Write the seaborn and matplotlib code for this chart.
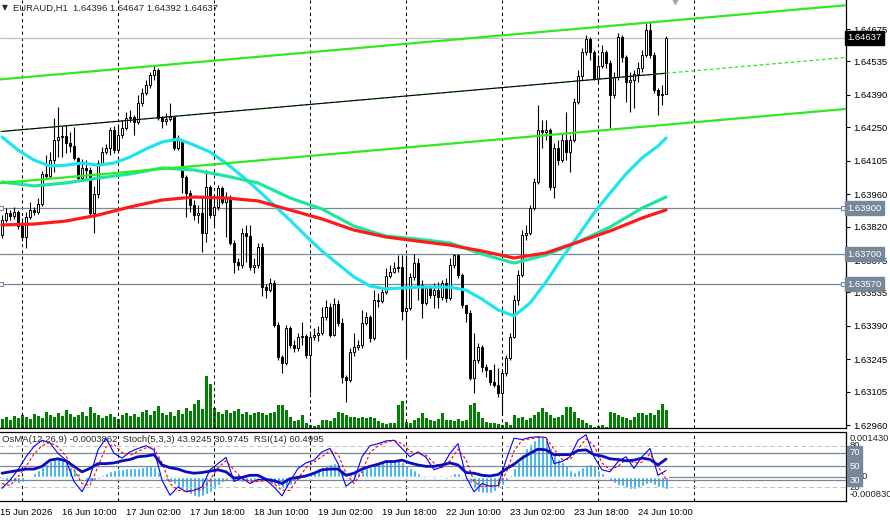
import numpy as np
import matplotlib
matplotlib.use("Agg")
import matplotlib.pyplot as plt
import matplotlib.transforms as mtransforms
import seaborn as sns

# ---- data ----
open0 = 1.63783
closes = [
    1.63848, 1.63879, 1.63866, 1.63883, 1.63822, 1.63775, 1.63861, 1.63892, 1.63883, 1.63918,
    1.64048, 1.64039, 1.64108, 1.64195, 1.64208, 1.64212, 1.64182, 1.64169, 1.64117, 1.64030,
    1.64074, 1.64065, 1.63879, 1.63961, 1.64095, 1.64143, 1.64160, 1.64238, 1.64151, 1.64216,
    1.64247, 1.64290, 1.64294, 1.64273, 1.64355, 1.64398, 1.64433, 1.64476, 1.64498, 1.64290,
    1.64277, 1.64286, 1.64294, 1.64160, 1.64195, 1.64035, 1.63965, 1.63913, 1.63870, 1.63879,
    1.63792, 1.63991, 1.63870, 1.63905, 1.63987, 1.63926, 1.63944, 1.63749, 1.63666, 1.63653,
    1.63792, 1.63779, 1.63645, 1.63653, 1.63731, 1.63558, 1.63545, 1.63576, 1.63394, 1.63255,
    1.63229, 1.63381, 1.63307, 1.63294, 1.63342, 1.63346, 1.63264, 1.63342, 1.63350, 1.63359,
    1.63428, 1.63472, 1.63350, 1.63485, 1.63402, 1.63169, 1.63156, 1.63277, 1.63298, 1.63307,
    1.63402, 1.63428, 1.63337, 1.63502, 1.63498, 1.63537, 1.63606, 1.63623, 1.63641, 1.63645,
    1.63454, 1.63467, 1.63602, 1.63662, 1.63567, 1.63489, 1.63554, 1.63524, 1.63545, 1.63515,
    1.63576, 1.63511, 1.63653, 1.63697, 1.63610, 1.63480, 1.63446, 1.63164, 1.63242, 1.63298,
    1.63212, 1.63199, 1.63147, 1.63134, 1.63099, 1.63186, 1.63251, 1.63342, 1.63502, 1.63610,
    1.63783, 1.63792, 1.63900, 1.64013, 1.64238, 1.64229, 1.64238, 1.63991, 1.64160, 1.64108,
    1.64195, 1.64143, 1.64195, 1.64359, 1.64472, 1.64576, 1.64632, 1.64576, 1.64463, 1.64515,
    1.64576, 1.64528, 1.64390, 1.64468, 1.64641, 1.64554, 1.64446, 1.64455, 1.64481, 1.64507,
    1.64563, 1.64671, 1.64563, 1.64411, 1.64390, 1.64396, 1.64637,
]
highs = [
    1.63870, 1.63900, 1.63892, 1.63905, 1.63892, 1.63857, 1.63883, 1.63926, 1.63905, 1.63944,
    1.64061, 1.64130, 1.64143, 1.64290, 1.64338, 1.64255, 1.64260, 1.64229, 1.64251, 1.64121,
    1.64112, 1.64108, 1.64078, 1.63996, 1.64108, 1.64164, 1.64177, 1.64251, 1.64255, 1.64264,
    1.64281, 1.64316, 1.64325, 1.64303, 1.64390, 1.64420, 1.64455, 1.64489, 1.64520, 1.64507,
    1.64299, 1.64312, 1.64355, 1.64299, 1.64216, 1.64195, 1.64043, 1.63978, 1.63935, 1.63913,
    1.63948, 1.64065, 1.64000, 1.63948, 1.64000, 1.63996, 1.63970, 1.63957, 1.63762, 1.63684,
    1.63814, 1.63827, 1.63827, 1.63684, 1.63749, 1.63749, 1.63571, 1.63597, 1.63589, 1.63407,
    1.63264, 1.63394, 1.63389, 1.63329, 1.63359, 1.63407, 1.63355, 1.63359, 1.63381, 1.63389,
    1.63472, 1.63502, 1.63489, 1.63511, 1.63502, 1.63424, 1.63177, 1.63294, 1.63359, 1.63329,
    1.63459, 1.63450, 1.63437, 1.63545, 1.63532, 1.63558, 1.63641, 1.63653, 1.63666, 1.63697,
    1.63697, 1.63697, 1.63619, 1.63701, 1.63684, 1.63589, 1.63567, 1.63567, 1.63576, 1.63580,
    1.63589, 1.63597, 1.63684, 1.63701, 1.63701, 1.63619, 1.63480, 1.63459, 1.63359, 1.63316,
    1.63307, 1.63225, 1.63199, 1.63225, 1.63208, 1.63199, 1.63264, 1.63359, 1.63524, 1.63632,
    1.63805, 1.63827, 1.63913, 1.64030, 1.64346, 1.64281, 1.64281, 1.64247, 1.64182, 1.64195,
    1.64225, 1.64316, 1.64216, 1.64377, 1.64498, 1.64593, 1.64649, 1.64641, 1.64584, 1.64563,
    1.64606, 1.64584, 1.64541, 1.64489, 1.64658, 1.64649, 1.64563, 1.64489, 1.64498, 1.64533,
    1.64584, 1.64706, 1.64706, 1.64576, 1.64420, 1.64433, 1.64647,
]
lows = [
    1.63770, 1.63840, 1.63848, 1.63853, 1.63809, 1.63757, 1.63727, 1.63853, 1.63870, 1.63874,
    1.63909, 1.64026, 1.64030, 1.64056, 1.64121, 1.64121, 1.64138, 1.64143, 1.64108, 1.64022,
    1.64022, 1.64030, 1.63866, 1.63792, 1.63944, 1.64086, 1.64134, 1.64130, 1.64138, 1.64143,
    1.64203, 1.64238, 1.64273, 1.64216, 1.64264, 1.64342, 1.64390, 1.64420, 1.64455, 1.64281,
    1.64247, 1.64260, 1.64277, 1.64151, 1.64151, 1.63965, 1.63861, 1.63883, 1.63848, 1.63835,
    1.63710, 1.63753, 1.63857, 1.63818, 1.63892, 1.63918, 1.63775, 1.63740, 1.63619, 1.63632,
    1.63641, 1.63666, 1.63632, 1.63619, 1.63641, 1.63519, 1.63511, 1.63537, 1.63385, 1.63242,
    1.63186, 1.63220, 1.63294, 1.63277, 1.63281, 1.63307, 1.63251, 1.63099, 1.63329, 1.63324,
    1.63350, 1.63415, 1.63342, 1.63346, 1.63389, 1.63143, 1.63060, 1.63147, 1.63259, 1.63285,
    1.63294, 1.63394, 1.63320, 1.63329, 1.63472, 1.63489, 1.63528, 1.63597, 1.63619, 1.63623,
    1.63415, 1.63255, 1.63459, 1.63589, 1.63502, 1.63424, 1.63480, 1.63511, 1.63467, 1.63467,
    1.63502, 1.63493, 1.63502, 1.63641, 1.63597, 1.63467, 1.63407, 1.63156, 1.63099, 1.63229,
    1.63190, 1.63169, 1.63134, 1.63125, 1.63082, 1.63004, 1.63173, 1.63242, 1.63337, 1.63480,
    1.63602, 1.63762, 1.63783, 1.63892, 1.64004, 1.64160, 1.64195, 1.63978, 1.63944, 1.64086,
    1.64100, 1.64108, 1.64056, 1.64186, 1.64351, 1.64455, 1.64563, 1.64541, 1.64455, 1.64446,
    1.64507, 1.64507, 1.64247, 1.64377, 1.64455, 1.64533, 1.64359, 1.64316, 1.64333, 1.64446,
    1.64489, 1.64554, 1.64550, 1.64398, 1.64303, 1.64346, 1.64392,
]
# tick volume (hundreds of ticks)
volumes = [
    9, 11, 8, 12, 10, 13, 11, 9, 14, 12, 10, 16, 13, 11, 15, 12, 18, 14, 11, 13, 16,
    12, 21, 15, 13, 10, 12, 14, 11, 9, 13, 15, 12, 14, 11, 16, 18, 13, 17, 22, 15,
    13, 16, 12, 18, 14, 20, 17, 24, 28, 19, 52, 44, 20, 16, 14, 18, 15, 17, 19, 14, 16,
    13, 15, 16, 15, 13, 15, 16, 23, 23, 18, 11, 7, 8, 13, 5, 3, 2, 3, 8, 8,
    7, 10, 16, 15, 13, 11, 11, 10, 11, 10, 11, 10, 7, 5, 4, 5, 5, 23, 27, 6,
    5, 8, 10, 15, 10, 8, 7, 9, 15, 8, 8, 7, 9, 7, 8, 23, 25, 16, 10, 6,
    5, 5, 4, 3, 6, 3,
    13, 10, 11, 8, 10, 13, 16, 20, 16, 13, 10, 11, 13, 21, 21, 16, 10, 8, 5, 3,
    1, 2, 3, 1, 16, 15, 13, 11, 10, 8, 11, 15, 15, 13, 15, 13, 18, 24, 18,
]

# fast moving average, sampled every 4 bars (last point = last bar)
fast_bars = list(range(0, 165, 4)) + [166]
ma_fast = [1.64208, 1.64151, 1.64108, 1.64082, 1.64086, 1.64095, 1.64086, 1.64095, 1.64121, 1.64156,
           1.64186, 1.64199, 1.64173, 1.64143, 1.64095, 1.64039, 1.63978, 1.63913, 1.63848, 1.63779,
           1.63714, 1.63658, 1.63602, 1.63563, 1.63550, 1.63554, 1.63558, 1.63558, 1.63558, 1.63545,
           1.63506, 1.63459, 1.63433, 1.63489, 1.63580, 1.63684, 1.63779, 1.63879, 1.63965, 1.64048,
           1.64117, 1.64169, 1.64203]
# slower moving averages, sampled every 8 bars
ma_bars = [0, 8, 16, 24, 32, 40, 48, 56, 64, 72, 80, 88, 96, 104, 112, 120, 128, 136, 144, 152, 160, 166]
ma_mid = [1.64013, 1.63996, 1.64009, 1.64030, 1.64048, 1.64074, 1.64065, 1.64039, 1.64009, 1.63944, 1.63896,
          1.63822, 1.63779, 1.63766, 1.63749, 1.63701, 1.63662, 1.63697, 1.63753, 1.63818, 1.63900, 1.63948]
ma_slow = [1.63827, 1.63831, 1.63844, 1.63870, 1.63905, 1.63935, 1.63948, 1.63944, 1.63931, 1.63892, 1.63853,
           1.63805, 1.63775, 1.63757, 1.63740, 1.63714, 1.63684, 1.63706, 1.63753, 1.63801, 1.63857, 1.63892]

# regression channel anchors (first bar, last bar)
chan_bars = [0, 166]
chan_upper = [1.64458, 1.64710]
chan_mid = [1.64232, 1.64484]
chan_lower = [1.64009, 1.64261]

level_prices = [1.63900, 1.63700, 1.63570]
last_price = 1.64637
price_ticks = [1.64675, 1.64535, 1.64390, 1.64250, 1.64105, 1.63960, 1.63820,
               1.63675, 1.63535, 1.63390, 1.63245, 1.63105, 1.62960]

# OsMA histogram in 1e-5 units
osma_pts = [
    -9, -13, -16, -19, -22, -16, -6, 2, 10, 20, 31, 39, 50, 55, 57, 54, 47, 31, 20, 10,
    -6, -16, -18, -13, -8, 5, 12, 18, 20, 23, 24, 26, 26, 27, 28, 31, 34, 34, 31, 15,
    -3, -11, -16, -24, -32, -40, -48, -55, -61, -64, -61, -55, -48, -40, -27, -16, -11, -9, -11, -13,
    -16, -14, -13, -11, -9, -14, -16, -18, -24, -30, -37, -35, -27, -19, -11, -3, 5, 10, 18, 26,
    31, 36, 41, 44, 41, 20, 5, 8, 10, 15, 20, 26, 31, 36, 41, 45, 50, 52, 54, 54,
    47, 36, 26, 20, 10, -1, -6, -6, -7, -6, -6, -7, 5, 12, 10, 2, -9, -22, -37, -48,
    -53, -53, -51, -45, -37, -27, -11, 5, 26, 47, 73, 89, 104, 115, 128, 129, 115, 89, 73, 57,
    47, 36, 20, 15, 20, 31, 38, 41, 33, 20, 10, 2, -11, -22, -27, -30, -37, -40, -40, -37,
    -30, -24, -22, -27, -32, -37, -39,
]
# Stochastic / RSI, every second bar
osc_bars = list(range(0, 167, 2))
stoch_main = [18, 30, 45, 64, 79, 88, 84, 69, 59, 28, 13, 35, 74, 91, 69, 62, 71, 76, 80, 74,
              30, 8, 20, 13, 15, 20, 45, 54, 63, 28, 33, 25, 31, 30, 20, 7, 28, 47, 55, 59,
              71, 76, 54, 21, 30, 64, 80, 83, 87, 88, 76, 64, 71, 63, 45, 49, 69, 83, 35, 13,
              25, 21, 22, 59, 91, 89, 92, 93, 92, 54, 57, 64, 88, 96, 64, 45, 42, 57, 64, 47,
              64, 76, 37, 43.92]
stoch_signal = [25, 22, 35, 50, 68, 80, 85, 78, 65, 45, 25, 22, 50, 78, 82, 70, 66, 72, 77, 77,
                55, 25, 15, 14, 15, 16, 30, 48, 58, 45, 32, 28, 28, 29, 25, 15, 15, 32, 48, 56,
                64, 73, 68, 40, 25, 42, 70, 80, 85, 88, 83, 72, 68, 66, 55, 48, 58, 75, 60, 28,
                20, 22, 22, 40, 72, 88, 90, 92, 92, 75, 60, 60, 75, 90, 80, 55, 45, 50, 60, 55,
                56, 68, 50, 30.97]
rsi = [40, 42, 44, 46, 46, 50, 59, 61, 58, 50, 42, 47, 54, 54, 55, 58, 60, 64, 65, 67,
       52, 48, 46, 42, 40, 41, 43, 45, 42, 33, 34, 37, 37, 31, 29, 25, 32, 34, 36, 40,
       45, 46, 46, 37, 40, 46, 50, 53, 57, 57, 59, 55, 52, 50, 50, 52, 55, 52, 41, 40,
       37, 36, 38, 46, 53, 62, 69, 75, 74, 67, 67, 67, 73, 74, 67, 65, 61, 60, 58, 59,
       62, 60, 52, 60.50]

time_bars = [-0.5, 15, 31, 47, 63, 79, 95, 111, 127, 143, 159]
time_labels = ["15 Jun 2026", "16 Jun 10:00", "17 Jun 02:00", "17 Jun 18:00", "18 Jun 10:00",
               "19 Jun 02:00", "19 Jun 18:00", "22 Jun 10:00", "23 Jun 02:00", "23 Jun 18:00",
               "24 Jun 10:00"]
grid_bars = [5, 29, 53, 77, 101, 125, 149, 173]

# ---- style ----
sns.set_style("white")
plt.rcParams['font.family'] = ['Liberation Sans', 'DejaVu Sans']
FS = 6.8
SLATE = '#778899'

W, H = 890, 522
fig = plt.figure(figsize=(W / 100, H / 100), dpi=100)
fig.patch.set_facecolor('white')


def box(x0, y0, x1, y1):
    return [x0 / W, 1 - y1 / H, (x1 - x0) / W, (y1 - y0) / H]


ax = fig.add_axes(box(0, 0, 846, 428))
axi = fig.add_axes(box(0, 432, 846, 500.7))
for a in (ax, axi):
    a.set_facecolor('white')
    a.set_xlim(-0.5, 211)
    for s in ('left', 'top'):
        a.spines[s].set_visible(False)
    for s in ('right', 'bottom'):
        a.spines[s].set_color('black')
        a.spines[s].set_linewidth(0.9)
axi.spines['top'].set_visible(True)
axi.spines['top'].set_color('black')
axi.spines['top'].set_linewidth(0.9)

ax.set_ylim(1.62948, 1.64801)

# volume (own scale, bottom of main window)
axv = ax.twinx()
axv.set_ylim(0, 428)
axv.set_axis_off()
bars = np.arange(len(closes))
axv.vlines(bars, 0, volumes, color='#008000', lw=0.9, antialiased=False, zorder=1)
ax.set_zorder(axv.get_zorder() + 1)
ax.patch.set_visible(False)

# grid / levels
for b in grid_bars:
    ax.axvline(b, color='black', lw=0.75, ls=(0, (3, 3)), zorder=1)
    axi.axvline(b, color='black', lw=0.75, ls=(0, (3, 3)), zorder=1)
ax.axhline(last_price, color='#C0C0C0', lw=0.9, zorder=1)
for p in level_prices:
    ax.axhline(p, color=SLATE, lw=0.9, zorder=1)
for p in (level_prices[0], level_prices[2]):
    ax.plot([-0.3, 210.3], [p, p], ls='none', marker='s', ms=3.2, mfc='white', mec=SLATE,
            mew=0.8, clip_on=False, zorder=6)

# candles
o = np.array([open0] + closes[:-1])
c = np.array(closes)
up = c >= o
ax.vlines(bars, lows, highs, color='black', lw=0.8, zorder=3)
body_h = np.maximum(np.abs(c - o), 0.000012)
ax.bar(bars, body_h, bottom=np.minimum(o, c), width=0.7,
       color=np.where(up, 'white', 'black'), edgecolor='black', linewidth=0.7, zorder=3)

# moving averages
sns.lineplot(x=fast_bars, y=ma_fast, ax=ax, color='#1EE4F0', lw=2.3, zorder=4)
sns.lineplot(x=ma_bars, y=ma_mid, ax=ax, color='#1CE6A2', lw=2.3, zorder=4)
sns.lineplot(x=ma_bars, y=ma_slow, ax=ax, color='#FF1A1A', lw=2.3, zorder=4)

# regression channel
LIME = '#2EEA22'
ax.axline((chan_bars[0], chan_upper[0]), (chan_bars[1], chan_upper[1]), color=LIME, lw=1.6, zorder=5)
ax.axline((chan_bars[0], chan_lower[0]), (chan_bars[1], chan_lower[1]), color=LIME, lw=1.6, zorder=5)
ax.axline((chan_bars[0], chan_mid[0]), (chan_bars[1], chan_mid[1]), color=LIME, lw=0.9,
          ls=(0, (3, 2)), zorder=5)
sns.lineplot(x=chan_bars, y=chan_mid, ax=ax, color='black', lw=0.8, zorder=5)

# shift marker
ax.plot([168.2], [1.64801], marker='v', ms=6, color='#A8A8A8', clip_on=False, zorder=6)

# price scale
ax.yaxis.tick_right()
ax.set_yticks(price_ticks)
ax.set_yticklabels([f"{p:.5f}" for p in price_ticks])
ax.tick_params(axis='y', length=3, width=0.8, pad=2, labelsize=FS, colors='black')
ax.set_xticks([])
ax.set_xlabel('')
ax.set_ylabel('')
trans = mtransforms.blended_transform_factory(ax.transAxes, ax.transData)
for p in level_prices:
    ax.text(1.002, p, f"{p:.5f}", transform=trans, fontsize=FS, color='white', va='center',
            ha='left', clip_on=False, zorder=7,
            bbox=dict(boxstyle='square,pad=0.25', fc=SLATE, ec=SLATE))
ax.text(1.002, last_price, f"{last_price:.5f}", transform=trans, fontsize=FS, color='white',
        va='center', ha='left', clip_on=False, zorder=7,
        bbox=dict(boxstyle='square,pad=0.25', fc='black', ec='black'))

# ---- indicator window: OsMA on the base axes, Stoch/RSI on a twin ----
axi.set_ylim(-0.000768, 0.001413)
axi.axhline(0, color=SLATE, lw=0.9, zorder=1)
axi.bar(bars, np.array(osma_pts) * 1e-5, width=0.75, color='#1CA8EE', zorder=2)
axi.set_yticks([])
axi.set_ylabel('')
axi.set_xticks(time_bars)
axi.set_xticklabels(time_labels)
axi.tick_params(axis='x', length=2, width=0.8, pad=3, labelsize=FS, colors='black')
for t in axi.get_xticklabels():
    t.set_ha('left')

axs = axi.twinx()
axs.set_ylim(0, 100)
axs.set_xlim(-0.5, 211)
axs.set_yticks([])
for s in axs.spines.values():
    s.set_visible(False)
for lv in (70, 50, 30):
    axs.axhline(lv, color=SLATE, lw=0.9, zorder=1)
for lv in (80, 20):
    axs.axhline(lv, color='#C4C4C4', lw=0.8, ls=(0, (4, 3)), zorder=1)

sns.lineplot(x=osc_bars, y=stoch_main, ax=axs, color='#0000FF', lw=0.8, zorder=3)
sns.lineplot(x=osc_bars, y=stoch_signal, ax=axs, color='#FF0000', lw=0.8, zorder=3,
             linestyle=(0, (2.5, 2)))
sns.lineplot(x=osc_bars, y=rsi, ax=axs, color='#0C0CC0', lw=2.0, zorder=4)
axs.set_ylabel('')

# right-hand labels of the indicator window
ti = mtransforms.blended_transform_factory(axs.transAxes, axs.transData)
axs.text(1.004, 91, "0.001430", transform=ti, fontsize=FS, va='center', ha='left', clip_on=False)
axs.text(1.004, 81, "80", transform=ti, fontsize=FS, va='center', ha='left', clip_on=False)
axs.text(1.004, 35, "0.00", transform=ti, fontsize=FS, va='center', ha='left', clip_on=False)
axs.text(1.004, 19, "20", transform=ti, fontsize=FS, va='center', ha='left', clip_on=False)
axs.text(1.004, 9, "-0.000830", transform=ti, fontsize=FS, va='center', ha='left', clip_on=False)
for lv in (70, 50, 30):
    axs.text(1.004, lv, str(lv), transform=ti, fontsize=FS, color='white', va='center', ha='left',
             clip_on=False, zorder=7, bbox=dict(boxstyle='square,pad=0.2', fc=SLATE, ec=SLATE))

# headers
fig.text(2 / W, 1 - 8 / H, "\u25BC", fontsize=5.5, va='center', ha='left', family='DejaVu Sans')
fig.text(13 / W, 1 - 8 / H, "EURAUD,H1  1.64396 1.64647 1.64392 1.64637", fontsize=FS,
         va='center', ha='left')
fig.text(2 / W, 1 - 440 / H,
         "OsMA(12,26,9) -0.0003862  Stoch(5,3,3) 43.9245 30.9745  RSI(14) 60.4995",
         fontsize=FS, va='center', ha='left')

fig.savefig("out.png", dpi=100, facecolor='white')
